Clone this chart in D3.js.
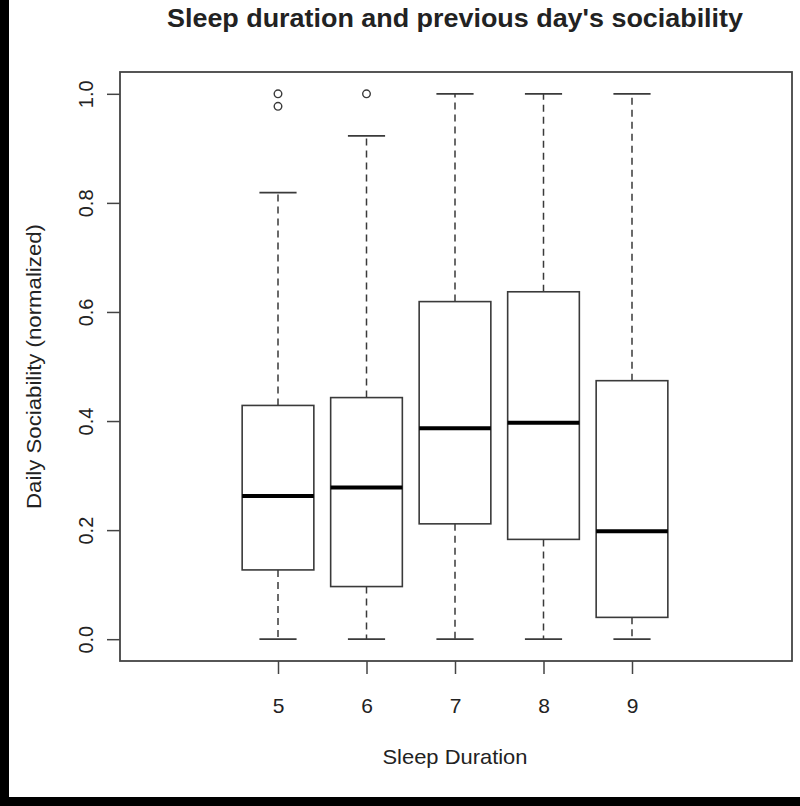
<!DOCTYPE html>
<html>
<head>
<meta charset="utf-8">
<script src="https://cdn.jsdelivr.net/npm/d3@7"></script>
<style>
html,body{margin:0;padding:0;background:#fff;}
svg{display:block;}
text{font-family:"Liberation Sans",Arial,sans-serif;fill:#222;}
</style>
</head>
<body>
<svg id="chart" width="800" height="806"></svg>
<script>
// ---- data ----
const categories = ["5", "6", "7", "8", "9"];
const lowerWhisker = [0, 0, 0, 0, 0];
const q1 = [0.127, 0.0965, 0.2115, 0.183, 0.040];
const medians = [0.2625, 0.278, 0.387, 0.397, 0.198];
const q3 = [0.4286, 0.443, 0.619, 0.637, 0.474];
const upperWhisker = [0.8187, 0.923, 1.0, 1.0, 1.0];
const outliers = [[1.0, 0.977], [1.0], [], [], []];
const yTicks = [0.0, 0.2, 0.4, 0.6, 0.8, 1.0];
const titleText = "Sleep duration and previous day's sociability";
const xTitle = "Sleep Duration";
const yTitle = "Daily Sociability (normalized)";

// ---- layout ----
const svg = d3.select("#chart");
const W = 800, H = 806;
const frame = {left: 120, right: 792, top: 72, bottom: 661};
const lineCol = "#3a3a3a";

// black borders (photo frame edges)
svg.append("rect").attr("x", 0).attr("y", 0).attr("width", 9).attr("height", H).attr("fill", "#000");
svg.append("rect").attr("x", 0).attr("y", 797).attr("width", W).attr("height", H - 797).attr("fill", "#000");

const x = d3.scalePoint().domain(categories).range([278, 632]);
const step = x.step();
const boxW = step * 0.81;
const capW = step * 0.42;
const y = d3.scaleLinear().domain([-0.04, 1.04]).range([frame.bottom, frame.top]);

const data = categories.map((c, i) => ({
  c, lo: lowerWhisker[i], q1: q1[i], med: medians[i], q3: q3[i], hi: upperWhisker[i], out: outliers[i]
}));

const g = svg.append("g");

// whiskers (dashed)
g.selectAll(".wu").data(data).join("line")
  .attr("x1", d => x(d.c)).attr("x2", d => x(d.c))
  .attr("y1", d => y(d.q3)).attr("y2", d => y(d.hi))
  .attr("stroke", lineCol).attr("stroke-width", 1.5).attr("stroke-dasharray", "7,5");
g.selectAll(".wl").data(data).join("line")
  .attr("x1", d => x(d.c)).attr("x2", d => x(d.c))
  .attr("y1", d => y(d.q1)).attr("y2", d => y(d.lo))
  .attr("stroke", lineCol).attr("stroke-width", 1.5).attr("stroke-dasharray", "7,5");

// caps
["hi", "lo"].forEach(k => {
  g.selectAll(".cap" + k).data(data).join("line")
    .attr("x1", d => x(d.c) - capW / 2).attr("x2", d => x(d.c) + capW / 2)
    .attr("y1", d => y(d[k])).attr("y2", d => y(d[k]))
    .attr("stroke", lineCol).attr("stroke-width", 1.8);
});

// boxes
g.selectAll(".box").data(data).join("rect")
  .attr("x", d => x(d.c) - boxW / 2).attr("width", boxW)
  .attr("y", d => y(d.q3)).attr("height", d => y(d.q1) - y(d.q3))
  .attr("fill", "#fff").attr("stroke", lineCol).attr("stroke-width", 1.6);

// medians
g.selectAll(".med").data(data).join("line")
  .attr("x1", d => x(d.c) - boxW / 2).attr("x2", d => x(d.c) + boxW / 2)
  .attr("y1", d => y(d.med)).attr("y2", d => y(d.med))
  .attr("stroke", "#000").attr("stroke-width", 4);

// outliers
data.forEach(d => {
  g.selectAll(null).data(d.out).join("circle")
    .attr("cx", x(d.c)).attr("cy", v => y(v)).attr("r", 3.8)
    .attr("fill", "none").attr("stroke", lineCol).attr("stroke-width", 1.4);
});

// frame
svg.append("rect")
  .attr("x", frame.left).attr("y", frame.top)
  .attr("width", frame.right - frame.left).attr("height", frame.bottom - frame.top)
  .attr("fill", "none").attr("stroke", "#444").attr("stroke-width", 1.8);

// y axis
const yAxis = svg.append("g").attr("transform", `translate(${frame.left},0)`)
  .call(d3.axisLeft(y).tickValues(yTicks).tickSize(13).tickFormat(d3.format(".1f")));
yAxis.select(".domain").remove();
yAxis.selectAll(".tick line").attr("stroke", "#444").attr("stroke-width", 1.5);
yAxis.selectAll(".tick text")
  .attr("x", 0).attr("y", 0).attr("dy", null)
  .attr("transform", "translate(-27,0) rotate(-90)")
  .attr("text-anchor", "middle")
  .style("font-size", "20px").attr("fill", "#333");

// x axis
const xAxis = svg.append("g").attr("transform", `translate(0,${frame.bottom})`)
  .call(d3.axisBottom(x).tickSize(13));
xAxis.select(".domain").remove();
xAxis.selectAll(".tick line").attr("stroke", "#444").attr("stroke-width", 1.5);
xAxis.selectAll(".tick text")
  .attr("y", 52).attr("dy", null)
  .style("font-size", "21px").attr("fill", "#333");

// titles
svg.append("text").attr("x", 455).attr("y", 27).attr("text-anchor", "middle")
  .style("font-size", "25px").style("font-weight", "bold").attr("fill", "#111")
  .attr("textLength", 576).attr("lengthAdjust", "spacingAndGlyphs")
  .text(titleText);

svg.append("text").attr("x", 455).attr("y", 764).attr("text-anchor", "middle")
  .style("font-size", "21px").attr("fill", "#333")
  .attr("textLength", 145).attr("lengthAdjust", "spacingAndGlyphs")
  .text(xTitle);

svg.append("text").attr("transform", `translate(41,${(frame.top + frame.bottom) / 2}) rotate(-90)`)
  .attr("text-anchor", "middle")
  .style("font-size", "21px").attr("fill", "#333")
  .attr("textLength", 285).attr("lengthAdjust", "spacingAndGlyphs")
  .text(yTitle);
</script>
</body>
</html>
